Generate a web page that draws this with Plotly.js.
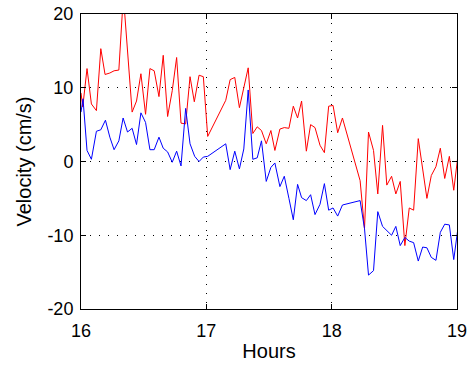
<!DOCTYPE html>
<html>
<head>
<meta charset="utf-8">
<script src="https://cdn.plot.ly/plotly-3.0.1.min.js"></script>
<style>html,body{margin:0;padding:0;background:#fff;}#chart{width:475px;height:365px;}</style>
</head>
<body>
<div id="chart"></div>
<script>
const redHours = [16.000,16.014,16.048,16.083,16.123,16.158,16.192,16.230,16.264,16.302,16.338,16.374,16.408,16.443,16.478,16.515,16.550,16.584,16.622,16.656,16.691,16.728,16.763,16.798,16.835,16.870,16.904,16.942,16.976,17.011,
17.155,17.190,17.227,17.264,17.299,17.334,17.371,17.406,17.440,17.478,17.515,17.547,17.587,17.622,17.659,17.694,17.728,17.760,17.798,17.832,17.867,17.907,17.942,17.976,18.011,18.048,18.086,
18.227,18.262,18.294,18.334,18.368,18.406,18.440,18.478,18.512,18.547,18.584,18.619,18.654,18.691,18.726,18.760,18.795,18.832,18.867,18.902,18.939,18.974,19.011];
const redVel = [9.3,7.4,12.6,7.8,6.9,15.3,11.8,12.0,12.3,12.4,22.5,14.0,6.7,8.2,11.9,6.4,12.6,12.3,8.8,14.4,6.1,9.6,14.1,5.2,5.1,11.5,8.1,11.7,11.5,3.4,
8.3,11.1,11.4,7.3,10.0,12.7,3.8,4.7,4.2,2.4,4.2,1.5,4.4,4.6,4.5,7.5,5.9,8.2,1.4,5.0,4.6,2.2,1.2,7.5,7.6,3.9,5.9,
-2.6,-9.1,4.0,1.5,-4.4,4.9,-3.2,-2.0,-4.4,-2.7,-11.4,-6.3,-6.6,3.1,-1.2,-5.0,-1.9,-0.7,1.8,-2.3,0.7,-3.9,1.3];

const blueHours = [16.000,16.016,16.048,16.083,16.123,16.158,16.195,16.230,16.264,16.302,16.336,16.371,16.408,16.443,16.478,16.515,16.550,16.584,16.622,16.656,16.691,16.728,16.763,16.798,16.835,16.870,16.907,16.942,16.976,17.011,
17.155,17.190,17.227,17.264,17.299,17.334,17.371,17.406,17.440,17.478,17.515,17.547,17.587,17.622,17.659,17.694,17.728,17.760,17.798,17.832,17.867,17.907,17.942,17.976,18.011,18.048,18.086,
18.227,18.262,18.294,18.334,18.368,18.406,18.440,18.478,18.512,18.547,18.584,18.619,18.654,18.691,18.726,18.760,18.795,18.832,18.867,18.902,18.939,18.974,19.011];
const blueVel = [6.7,8.5,1.5,0.3,4.1,4.3,5.6,3.3,1.6,2.8,5.9,4.0,4.5,2.3,6.6,5.3,1.6,1.6,3.3,1.8,1.3,-0.1,1.4,-0.6,7.2,2.4,0.7,0.0,0.6,0.7,
2.4,-1.1,1.4,-1.0,1.7,9.7,0.3,0.5,2.8,-2.7,-0.8,-0.2,-3.4,-2.0,-5.0,-7.9,-3.1,-4.9,-5.3,-4.5,-7.2,-5.8,-3.0,-6.6,-6.3,-7.4,-5.9,
-5.3,-9.1,-15.4,-14.8,-6.8,-8.8,-9.4,-10.0,-8.8,-11.4,-10.3,-10.8,-11.0,-13.5,-11.6,-11.7,-13.0,-13.4,-9.6,-8.5,-8.6,-13.3,-8.6];

const xTicks = [16,17,18,19];
const yTicks = [-20,-10,0,10,20];

const fam = 'Liberation Sans, Arial, Helvetica, sans-serif';
const tickFont = {family: fam, size: 18, color: '#000'};
const titleFont = {family: fam, size: 20, color: '#000'};

const traces = [
  {x: redHours, y: redVel, type: 'scatter', mode: 'lines', line: {color: '#ff0000', width: 1}, hoverinfo: 'skip'},
  {x: blueHours, y: blueVel, type: 'scatter', mode: 'lines', line: {color: '#0000ff', width: 1}, hoverinfo: 'skip'}
];

const axisCommon = {
  showline: true, linecolor: '#000', linewidth: 1, mirror: 'allticks',
  ticks: 'inside', ticklen: 5, tickwidth: 1, tickcolor: '#000',
  showgrid: true, gridcolor: '#000', gridwidth: 1, griddash: '1px,8px',
  zeroline: false, tickfont: tickFont
};

const layout = {
  width: 475, height: 365,
  margin: {l: 81, r: 18, t: 14, b: 56},
  paper_bgcolor: '#fff', plot_bgcolor: '#fff',
  showlegend: false,
  font: tickFont,
  xaxis: Object.assign({}, axisCommon, {
    range: [16, 19], tickmode: 'array', tickvals: xTicks, ticktext: xTicks.map(String),
    ticklabelstandoff: 5,
    title: {text: 'Hours', font: titleFont, standoff: 4}
  }),
  yaxis: Object.assign({}, axisCommon, {
    range: [-20, 20], tickmode: 'array', tickvals: yTicks, ticktext: yTicks.map(String),
    ticklabelstandoff: 3,
    title: {text: 'Velocity (cm/s)', font: titleFont, standoff: 10}
  })
};

Plotly.newPlot('chart', traces, layout, {displayModeBar: false, staticPlot: true});
</script>
</body>
</html>
